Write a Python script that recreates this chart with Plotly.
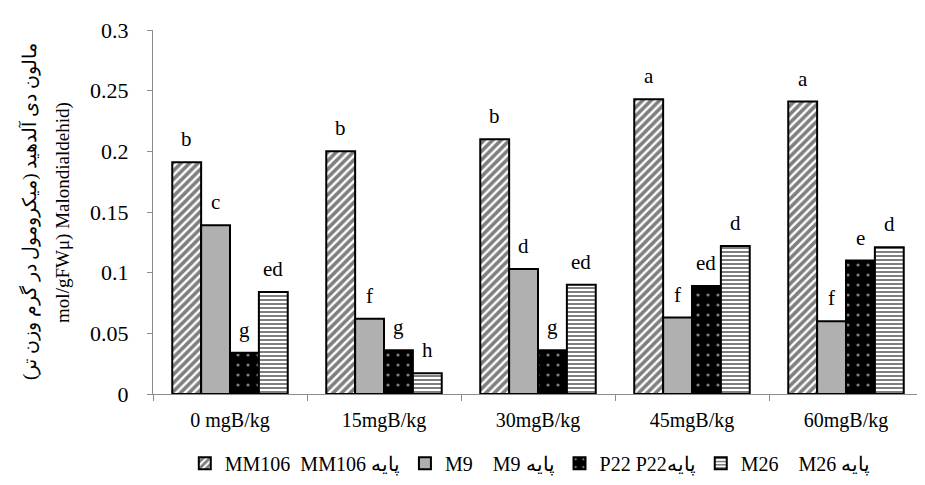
import plotly.graph_objects as go

categories = ["0 mgB/kg", "15mgB/kg", "30mgB/kg", "45mgB/kg", "60mgB/kg"]
series_names = ["MM106  MM106 پایه", "M9    M9 پایه", "P22 P22پایه", "M26    M26 پایه"]
mm106 = [0.191, 0.200, 0.210, 0.243, 0.241]
m9 = [0.139, 0.062, 0.103, 0.063, 0.060]
p22 = [0.034, 0.036, 0.036, 0.089, 0.110]
m26 = [0.084, 0.017, 0.090, 0.122, 0.121]
letters_mm106 = ["b", "b", "b", "a", "a"]
letters_m9 = ["c", "f", "d", "f", "f"]
letters_p22 = ["g", "g", "g", "ed", "e"]
letters_m26 = ["ed", "h", "ed", "d", "d"]
y_ticks = [0, 0.05, 0.1, 0.15, 0.2, 0.25, 0.3]
y_title_fa = "مالون دی آلدهید (میکرومول در گرم وزن تر)\u200f"
y_title_en = "mol/gFWμ) Malondialdehid)"

SERIF = "'Liberation Serif', 'Times New Roman', serif"

styles = [
    dict(color="white", pattern=dict(shape="/", fgcolor="black", bgcolor="white", size=6, solidity=0.6)),
    dict(color="#b0b0b0"),
    dict(color="black", pattern=dict(shape=".", fgcolor="white", bgcolor="black", size=10, solidity=0.08)),
    dict(color="white", pattern=dict(shape="-", fgcolor="black", bgcolor="white", size=4, solidity=0.5)),
]
values = [mm106, m9, p22, m26]
letters = [letters_mm106, letters_m9, letters_p22, letters_m26]

BARGAP = 0.25
PLOT_W = 925 - 145 - 10
bar_px = PLOT_W / len(categories) * (1 - BARGAP) / len(values)

fig = go.Figure()
annotations = []
for j, (name, vals, lets, st) in enumerate(zip(series_names, values, letters, styles)):
    marker = dict(color=st["color"], line=dict(color="black", width=2))
    if "pattern" in st:
        marker["pattern"] = st["pattern"]
    fig.add_trace(go.Bar(x=categories, y=vals, name=name, marker=marker))
    for cat, v, lt in zip(categories, vals, lets):
        annotations.append(dict(
            x=cat, y=v, xref="x", yref="y", text=lt, showarrow=False,
            xshift=(j - (len(values) - 1) / 2) * bar_px, yshift=9,
            yanchor="bottom", xanchor="center",
            font=dict(family=SERIF, size=21, color="black"),
        ))

for xpos, txt in [(-0.161, y_title_fa), (-0.117, y_title_en)]:
    annotations.append(dict(
        xref="paper", yref="paper", x=xpos, y=0.5, xanchor="center", yanchor="middle",
        textangle=-90, showarrow=False, text=txt,
        font=dict(family=SERIF, size=19, color="black"),
    ))

fig.update_layout(
    width=925, height=485,
    margin=dict(l=145, r=10, t=22, b=92),
    paper_bgcolor="white", plot_bgcolor="white",
    barmode="group", bargap=BARGAP, bargroupgap=0,
    font=dict(family=SERIF, size=20, color="black"),
    showlegend=True,
    legend=dict(orientation="h", x=0.49, xanchor="center", y=-0.19, yanchor="middle",
                font=dict(family=SERIF, size=20, color="black"), itemwidth=30,
                traceorder="normal"),
    xaxis=dict(showline=True, linecolor="#8c8c8c", linewidth=1, ticks="outside",
               tickson="boundaries", ticklen=6, tickcolor="#8c8c8c",
               ticklabelstandoff=8,
               tickfont=dict(family=SERIF, size=20), showgrid=False),
    yaxis=dict(range=[0, 0.3], tickvals=y_ticks, ticktext=["0", "0.05", "0.1", "0.15", "0.2", "0.25", "0.3"],
               showline=True, linecolor="#8c8c8c", linewidth=1, ticks="outside",
               ticklen=5, tickcolor="#8c8c8c", showgrid=False, zeroline=False,
               ticklabelstandoff=14,
               tickfont=dict(family=SERIF, size=22)),
    annotations=annotations,
)

fig.write_html("out.html")
